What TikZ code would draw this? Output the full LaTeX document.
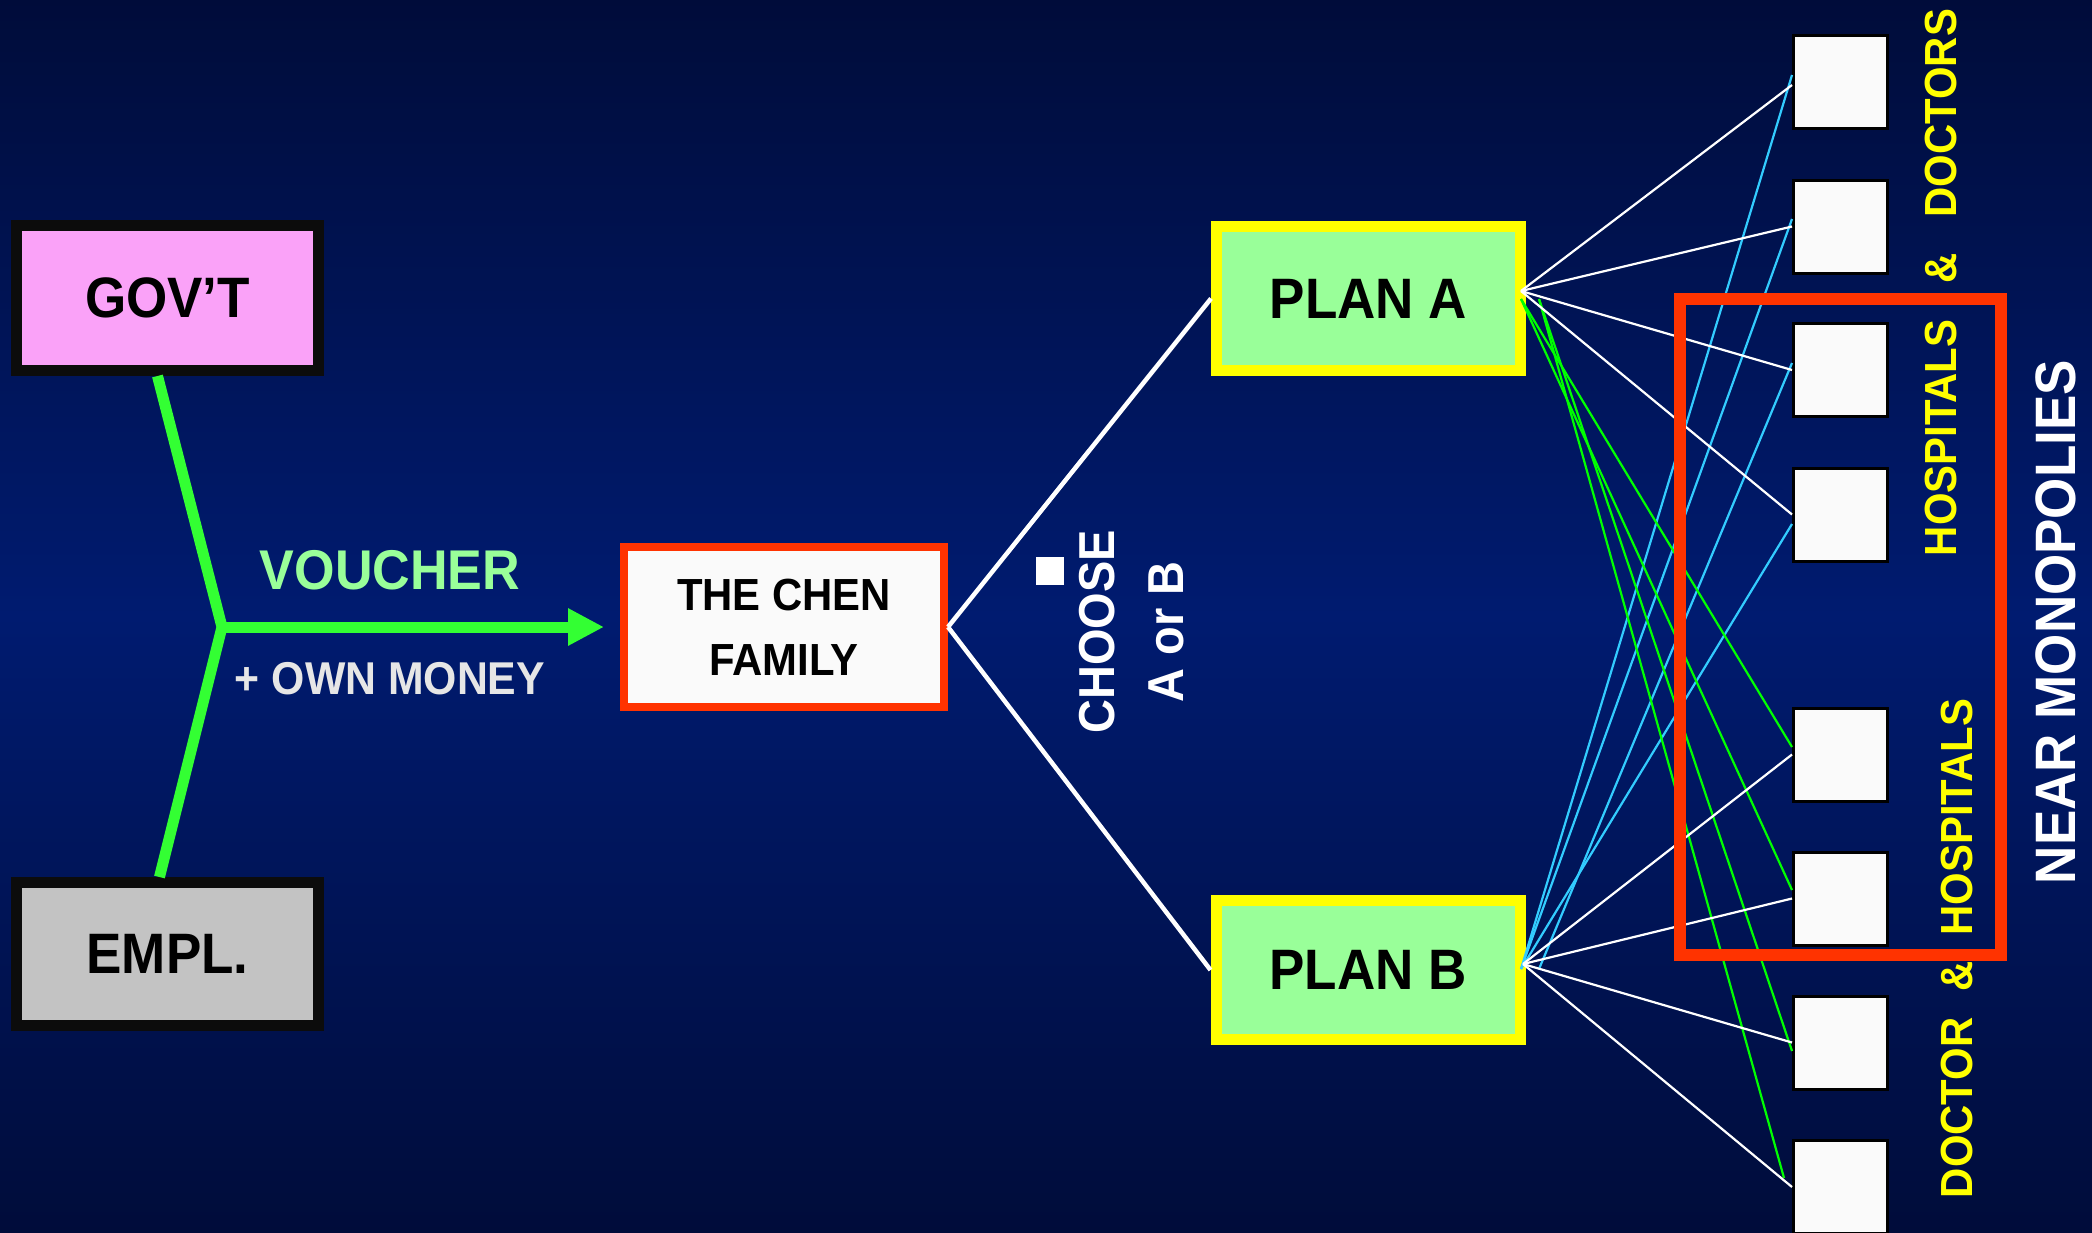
\documentclass[tikz,border=0pt]{standalone}
\usepackage{fontspec}
\setmainfont{Liberation Sans}[FakeStretch=0.93]
\usetikzlibrary{arrows.meta}
\definecolor{bgedge}{RGB}{0,12,58}
\definecolor{bgmid}{RGB}{0,27,112}
\definecolor{govpink}{RGB}{250,162,248}
\definecolor{emplgray}{RGB}{195,195,195}
\definecolor{boxblack}{RGB}{12,12,12}
\definecolor{planfill}{RGB}{153,255,153}
\definecolor{planyellow}{RGB}{255,255,0}
\definecolor{framered}{RGB}{255,51,0}
\definecolor{thickgreen}{RGB}{51,255,51}
\definecolor{vouchergreen}{RGB}{153,255,153}
\definecolor{moneygray}{RGB}{230,230,230}
\definecolor{linecyan}{RGB}{51,204,255}
\definecolor{linegreen}{RGB}{0,255,0}
\definecolor{labelyellow}{RGB}{255,255,0}
\definecolor{boxwhite}{RGB}{250,250,250}
\begin{document}
\begin{tikzpicture}[x=1pt,y=-1pt,
  bigbox/.style={draw=boxblack, line width=11pt, inner sep=0pt, text=black,
    font=\bfseries\fontsize{57pt}{60pt}\selectfont,
    minimum width=302pt},
  planbox/.style={draw=planyellow, fill=planfill, line width=11pt, inner sep=0pt, text=black,
    font=\bfseries\fontsize{57pt}{60pt}\selectfont, minimum width=304pt},
  rbox/.style={draw=black, fill=boxwhite, line width=3pt, minimum width=94pt, minimum height=93pt, inner sep=0pt},
  feed/.style={draw=thickgreen, line width=11pt},
  chenline/.style={draw=white, line width=4.5pt},
  wline/.style={draw=white, line width=2.2pt},
  cline/.style={draw=linecyan, line width=2.2pt},
  gline/.style={draw=linegreen, line width=2.2pt},
  vlabel/.style={rotate=90, inner sep=0pt, font=\bfseries\fontsize{45pt}{50pt}\selectfont, text=labelyellow}
]
\useasboundingbox (0,0) rectangle (2092,1232);
\shade[top color=bgedge, bottom color=bgedge, middle color=bgmid] (0,0) rectangle (2092,1232);

% left boxes
\node[bigbox, fill=govpink, minimum height=145pt] (gov) at (167.5,298) {GOV’T};
\node[bigbox, fill=emplgray, minimum height=143pt] (empl) at (167.5,954) {EMPL.};

% family
\node[draw=framered, fill=boxwhite, line width=8pt, minimum width=320pt, minimum height=160pt,
      inner sep=0pt, align=center, text=black, font=\bfseries\fontsize{45pt}{65pt}\selectfont]
      (chen) at (784,627) {THE CHEN\\FAMILY};

% plans
\node[planbox, minimum height=144pt] (planA) at (1368.5,298.5) {PLAN A};
\node[planbox, minimum height=139pt] (planB) at (1368,970) {PLAN B};

% right boxes
\foreach \i/\yy in {1/82,2/226.5,3/370,4/514.5,5/754.5,6/898.5,7/1042.5,8/1187}
  \node[rbox] (r\i) at (1840.5,\yy) {};

% feeding lines
\coordinate (j) at (222,627);
\draw[feed, line join=miter] ([xshift=-10pt]gov.south) -- (j) -- ([xshift=-8pt]empl.north);
\draw[feed, -{Triangle[length=36pt,width=35pt]}] (j) -- ([xshift=-16pt]chen.west);

\node[inner sep=0pt, text=vouchergreen, font=\bfseries\fontsize{56pt}{60pt}\selectfont] (voucher) at (390,570) {VOUCHER};
\node[inner sep=0pt, text=moneygray, font=\bfseries\fontsize{46pt}{50pt}\selectfont] (money) at (390,679) {+ OWN MONEY};

% choose lines
\draw[chenline] (chen.east) -- (planA.west);
\draw[chenline] (chen.east) -- (planB.west);
\node[fill=white, minimum size=28pt, inner sep=0pt] (bullet) at (1050,571) {};
\node[rotate=90, inner sep=0pt, text=white, font=\bfseries\fontsize{50.5pt}{55pt}\selectfont] (choose) at (1097,632) {CHOOSE};
\node[rotate=90, inner sep=0pt, text=white, font=\bfseries\fontsize{50.5pt}{55pt}\selectfont] (aorb) at (1166,632) {A or B};

% fan-out origins
\coordinate (aw) at (1521,291);
\coordinate (ag1) at (1521,299);
\coordinate (ag2) at (1539,299);
\coordinate (bw) at (1523,964);
\coordinate (bc1) at (1521,969);
\coordinate (bc2) at (1539,969);

% cyan from plan B to upper boxes
\draw[cline] (bc1) -- ([yshift=7pt]r1.west);
\draw[cline] (bc1) -- ([yshift=7.5pt]r2.west);
\draw[cline] (bc2) -- ([yshift=7pt]r3.west);
\draw[cline] (bc1) -- ([yshift=-9.5pt]r4.west);
% green from plan A to lower boxes
\draw[gline] (ag1) -- ([yshift=7.5pt]r5.west);
\draw[gline] (ag1) -- ([yshift=8.5pt]r6.west);
\draw[gline] (ag2) -- ([yshift=-8.5pt]r7.west);
\draw[gline] (ag2) -- ([xshift=-8pt,yshift=9pt]r8.west);
% white from plan A
\draw[wline] (aw) -- ([yshift=-3pt]r1.west);
\draw[wline] (aw) -- (r2.west);
\draw[wline] (aw) -- (r3.west);
\draw[wline] (aw) -- (r4.west);
% white from plan B
\draw[wline] (bw) -- (r5.west);
\draw[wline] (bw) -- (r6.west);
\draw[wline] (bw) -- (r7.west);
\draw[wline] (bw) -- (r8.west);

% red frame
\draw[draw=framered, line width=12pt] (1680,299) rectangle (2001,955);

% labels
\node[vlabel] (lab1) at (1941,282.5) {HOSPITALS\hspace{36pt}\&\hspace{36pt}DOCTORS};
\node[vlabel] (lab2) at (1957,948.5) {DOCTOR\hspace{26pt}\&\hspace{26pt}HOSPITALS};
\node[rotate=90, inner sep=0pt, text=white, font=\bfseries\fontsize{57pt}{60pt}\selectfont] (mono) at (2056,622) {NEAR MONOPOLIES};
\end{tikzpicture}
\end{document}
